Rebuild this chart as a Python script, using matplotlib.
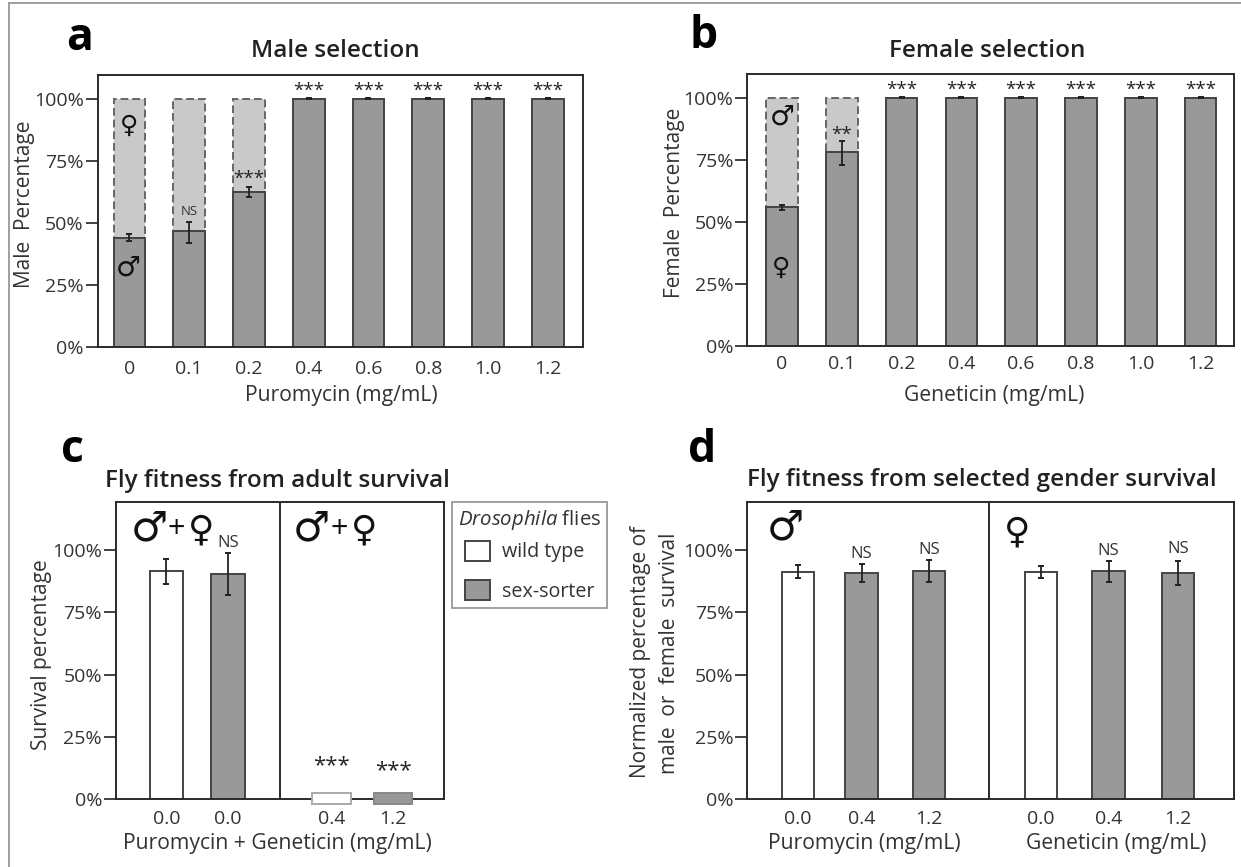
import matplotlib
matplotlib.use('Agg')
import matplotlib.pyplot as plt
from matplotlib.lines import Line2D
from matplotlib.patches import Patch
from matplotlib.ticker import FuncFormatter

# Values
doses_a = ['0', '0.1', '0.2', '0.4', '0.6', '0.8', '1.0', '1.2']
male_pct = [44, 46.5, 62.5, 100, 100, 100, 100, 100]
male_low = [42.5, 42, 60.5, 99.7, 99.7, 99.7, 99.7, 99.7]
male_high = [45.5, 50.5, 64.5, 100.2, 100.2, 100.2, 100.2, 100.2]
sig_a = ['', 'NS', '***', '***', '***', '***', '***', '***']
sig_a_y = [0, 54.5, 67.5, 103, 103, 103, 103, 103]

doses_b = ['0', '0.1', '0.2', '0.4', '0.6', '0.8', '1.0', '1.2']
female_pct = [56, 78, 100, 100, 100, 100, 100, 100]
female_low = [55, 73, 99.7, 99.7, 99.7, 99.7, 99.7, 99.7]
female_high = [57, 82.5, 100.2, 100.2, 100.2, 100.2, 100.2, 100.2]
sig_b = ['', '**', '***', '***', '***', '***', '***', '***']
sig_b_y = [0, 85, 103, 103, 103, 103, 103, 103]

doses_c = ['0.0', '0.0', '0.4', '1.2']
survival_c = [91.5, 90.5, 2.4, 2.4]
survival_c_low = [86.5, 82, None, None]
survival_c_high = [96.5, 99, None, None]

doses_d = ['0.0', '0.4', '1.2', '0.0', '0.4', '1.2']
survival_d = [91.3, 90.8, 91.5, 91.3, 91.5, 90.8]
survival_d_low = [89, 87, 87, 89, 87, 86]
survival_d_high = [94, 94.5, 96, 93.8, 95.8, 95.5]
sig_d = ['', 'NS', 'NS', '', 'NS', 'NS']
sig_d_y = [0, 98.4, 100, 0, 99.7, 100.3]

plt.rcParams['font.family'] = ['Open Sans', 'DejaVu Sans']
plt.rcParams['mathtext.fontset'] = 'custom'
plt.rcParams['mathtext.it'] = 'Open Sans:italic'
plt.rcParams['mathtext.rm'] = 'Open Sans'

W, H = 1241, 867
INK = '#333333'
DARK = '#999999'
LIGHT = '#c9c9c9'
EDGE = '#444444'

fig = plt.figure(figsize=(W / 100, H / 100), dpi=100)


def px(x, y):
    return x / W, 1 - y / H


def label(x, y, s, size=15.2, **kw):
    kw.setdefault('color', INK)
    fig.text(*px(x, y), s, fontsize=size, ha='center', va='center', **kw)


def make_axes(left, right, top, bottom, ymax, xlim, xpad):
    ax = fig.add_axes([left / W, 1 - bottom / H, (right - left) / W, (bottom - top) / H])
    ax.set_xlim(*xlim)
    ax.set_ylim(0, ymax)
    ax.set_yticks([0, 25, 50, 75, 100])
    ax.yaxis.set_major_formatter(FuncFormatter(lambda v, p: f'{v:.0f}%'))
    ax.tick_params(axis='y', length=9, width=1.3, color=INK, labelsize=14, labelcolor=INK, pad=1)
    ax.tick_params(axis='x', length=0, labelsize=14, labelcolor=INK, pad=xpad)
    for sp in ax.spines.values():
        sp.set_linewidth(1.4)
        sp.set_color('#2a2a2a')
    return ax


def errbars(ax, xs, low, high, cap=2.2):
    for x, lo, hi in zip(xs, low, high):
        if lo is not None:
            ax.plot([x, x], [lo, hi], color='#222222', lw=1.3, zorder=5)
            ax.plot([x, x], [lo, hi], ls='none', marker='_', ms=cap * 2, mew=1.4, color='#222222', zorder=5)


def selection_panel(ax, doses, pct, low, high, sig, sig_y):
    xs = list(range(len(doses)))
    rest = [100 - p for p in pct]
    ax.bar(xs, rest, bottom=pct, width=0.53, color=LIGHT, edgecolor='#666666', lw=1.4, ls=(0, (4, 2)))
    ax.bar(xs, pct, width=0.53, color=DARK, edgecolor=EDGE, lw=1.4)
    errbars(ax, xs, low, high)
    ax.set_xticks(xs, doses)
    for x, s, y in zip(xs, sig, sig_y):
        if s == 'NS':
            ax.text(x, y, s, fontsize=9.5, color=INK, ha='center', va='center')
        elif s:
            ax.text(x, y, s, fontsize=13.5, color='#222222', ha='center', va='center')


# a
ax_a = make_axes(97.7, 583, 75, 347, 109.5, (-0.53, 7.59), 9)
selection_panel(ax_a, doses_a, male_pct, male_low, male_high, sig_a, sig_a_y)

# b
ax_b = make_axes(747.3, 1234, 74, 346.3, 109.5, (-0.58, 7.56), 6.5)
selection_panel(ax_b, doses_b, female_pct, female_low, female_high, sig_b, sig_b_y)

# c
x_c = [0, 1, 2.68, 3.68]
ax_c = make_axes(115.9, 443.6, 502, 799.3, 119.3, (-0.82, 4.5), 7.5)
ax_c.bar(x_c[:2], survival_c[:2], width=0.54, color=['white', DARK], edgecolor=EDGE, lw=1.4)
ax_c.bar(x_c[2:], [s + 1.9 for s in survival_c[2:]], bottom=-1.9, width=0.62, color=['white', DARK],
         edgecolor=['#aaaaaa', '#888888'], lw=1.4, clip_on=False, zorder=3)
errbars(ax_c, x_c, survival_c_low, survival_c_high)
ax_c.axvline(1.84, color='#2a2a2a', lw=1.4)
ax_c.set_xticks(x_c, doses_c)
ax_c.text(1, 103, 'NS', fontsize=12, color=INK, ha='center', va='center')
ax_c.text(2.68, 13.5, '***', fontsize=16, color='#222222', ha='center', va='center')
ax_c.text(3.68, 11.5, '***', fontsize=16, color='#222222', ha='center', va='center')

# d
x_d = [0, 0.98, 2.02, 3.74, 4.78, 5.85]
ax_d = make_axes(747.3, 1234, 502, 799.3, 119.3, (-0.78, 6.71), 7.5)
ax_d.bar(x_d, survival_d, width=0.5, color=['white', DARK, DARK, 'white', DARK, DARK], edgecolor=EDGE, lw=1.4)
errbars(ax_d, x_d, survival_d_low, survival_d_high)
ax_d.axvline(2.94, color='#2a2a2a', lw=1.4)
ax_d.set_xticks(x_d, doses_d)
for x, s, y in zip(x_d, sig_d, sig_d_y):
    if s:
        ax_d.text(x, y, s, fontsize=12, color=INK, ha='center', va='center')

# panel letters
label(80, 39, 'a', 32, weight='bold', color='black')
label(704, 37, 'b', 32, weight='bold', color='black')
label(72, 451, 'c', 32, weight='bold', color='black')
label(702, 451, 'd', 32, weight='bold', color='black')

# titles
label(335, 51, 'Male selection', 17.5, weight='semibold', color='#222222')
label(987, 51, 'Female selection', 17.5, weight='semibold', color='#222222')
label(277, 481, 'Fly fitness from adult survival', 17.5, weight='semibold', color='#222222')
label(982, 480, 'Fly fitness from selected gender survival', 17.5, weight='semibold', color='#222222')

# axis labels
label(341, 396, 'Puromycin (mg/mL)')
label(994, 396, 'Geneticin (mg/mL)')
label(277, 844, 'Puromycin + Geneticin (mg/mL)')
label(864, 844, 'Puromycin (mg/mL)')
label(1116, 844, 'Geneticin (mg/mL)')
label(24.5, 204, 'Male  Percentage', 15, rotation=90)
label(675, 203, 'Female  Percentage', 15, rotation=90)
label(41.5, 655, 'Survival percentage', 15, rotation=90)
label(640.5, 652, 'Normalized percentage of', 15, rotation=90)
label(669.5, 653, 'male  or  female  survival', 15, rotation=90)

# sex symbols
for x, y, s, size in [(128.5, 126, '♀', 18), (128.5, 268, '♂', 20),
                      (782, 117, '♂', 20), (781, 268, '♀', 18),
                      (149, 528, '♂', 30), (201, 530, '♀', 26),
                      (311, 528, '♂', 30), (364, 530, '♀', 26),
                      (785, 527, '♂', 30), (1017, 532, '♀', 26)]:
    label(x, y, s, size, family='DejaVu Sans', color='#111111', zorder=10)
label(176, 530, '+', 22, color='#111111')
label(339, 530, '+', 22, color='#111111')

# legend
handles = [Patch(facecolor='white', edgecolor=EDGE, lw=1.4), Patch(facecolor=DARK, edgecolor=EDGE, lw=1.4)]
leg = fig.legend(handles, ['wild type', 'sex-sorter'], title=r'$\mathit{Drosophila}$ flies',
                 loc='upper left', bbox_to_anchor=px(452, 502), fontsize=14.2, title_fontsize=14.7,
                 handlelength=1.3, handleheight=1.15, labelspacing=0.9, handletextpad=0.6,
                 borderpad=0.3, borderaxespad=0, fancybox=False, edgecolor='#999999', framealpha=1)
leg._legend_box.sep = 6.5  # tighter gap under the legend title
leg.get_frame().set_linewidth(1.3)
for t in leg.get_texts():
    t.set_color(INK)
leg.get_title().set_color(INK)

# grey frame lines along the top and left edge of the picture
fig.add_artist(Line2D([8.7 / W, 1], [1 - 3.4 / H, 1 - 3.4 / H], color='#999999', lw=1.3))
fig.add_artist(Line2D([8.7 / W, 8.7 / W], [0, 1 - 3.4 / H], color='#999999', lw=1.3))

fig.savefig('out.png', dpi=100)
